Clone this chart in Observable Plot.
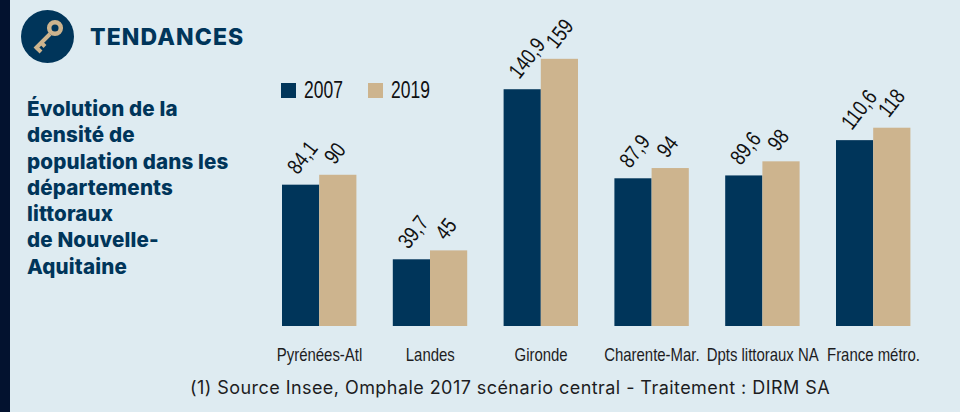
<!DOCTYPE html>
<html lang="fr"><head><meta charset="utf-8">
<script src="https://cdn.jsdelivr.net/npm/d3@7"></script>
<script src="https://cdn.jsdelivr.net/npm/@observablehq/plot@0.6"></script>
<style>
html,body{margin:0;padding:0;background:#deebf1;width:960px;height:412px;overflow:hidden}
#root{position:relative;width:960px;height:412px;overflow:hidden}
#strip{position:absolute;left:0;top:0;width:10px;height:412px;background:#03122f}
#chart{position:absolute;left:0;top:0}
.h{position:absolute;white-space:nowrap}
#title{left:90px;top:22px;font:800 23px/30px Inter,sans-serif;letter-spacing:1.1px;color:#00355a}
#desc{left:27px;top:96px;font:800 20.6px/26.3px Inter,sans-serif;letter-spacing:.15px;color:#00355a}
#caption{left:0;width:1020px;text-align:center;top:377px;font:400 18px/22px Inter,sans-serif;letter-spacing:.44px;color:#1d1d1f}
.lg{position:absolute;top:80px;font:23px/20px "Liberation Sans",sans-serif;color:#111;transform:scaleX(.76);transform-origin:left center}
.sw{position:absolute;top:83px;width:15px;height:15px}
#key{position:absolute;left:21px;top:10px}
</style></head><body>
<div id="root">
<div id="strip"></div>
<div id="chart"></div>
<svg id="key" width="53" height="53" viewBox="0 0 53 53">
  <circle cx="26.5" cy="26.5" r="26.5" fill="#00355a"/>
  <path d="M29 24 L14 39 M15.5 37.5 L20 42 M20 32.5 L24 36.5" stroke="#cdb48e" stroke-width="4" fill="none"/>
  <circle cx="34" cy="18" r="5.8" fill="none" stroke="#cdb48e" stroke-width="4.5"/>
</svg>
<div class="h" id="title">TENDANCES</div>
<div class="h" id="desc">Évolution de la<br>densité de<br>population dans les<br>départements<br>littoraux<br>de Nouvelle-<br>Aquitaine</div>
<div class="sw" style="left:281px;background:#00355a"></div>
<div class="lg" style="left:304px">2007</div>
<div class="sw" style="left:368px;background:#cdb48e"></div>
<div class="lg" style="left:391px">2019</div>
<div class="h" id="caption">(1) Source Insee, Omphale 2017 scénario central - Traitement : DIRM SA</div>
</div>
<script>
const categories = ["Pyrénées-Atl","Landes","Gironde","Charente-Mar.","Dpts littoraux NA","France métro."];
const years = ["2007","2019"];
const values2007 = [84.1,39.7,140.9,87.9,89.6,110.6];
const values2019 = [90,45,159,94,98,118];
const colors = ["#00355a","#cdb48e"];

const rows = categories.flatMap((c,i)=>[
  {cat:c,year:years[0],v:values2007[i]},
  {cat:c,year:years[1],v:values2019[i]}
]);
const fr = v => String(v).replace(".",",");
const font = '"Liberation Sans",sans-serif';

const chart = Plot.plot({
  width:960,height:412,
  marginTop:0,marginBottom:86,marginLeft:263.6,marginRight:31.6,
  style:{background:"transparent"},
  fx:{domain:categories,padding:0,round:false,label:null},
  x:{domain:years,range:[282,356.4],padding:0,round:false,axis:null},
  y:{domain:[0,194],range:[326,0],axis:null},
  color:{domain:years,range:colors},
  marks:[
    Plot.barY(rows,{fx:"cat",x:"year",y:"v",fill:"year"}),
    Plot.text(rows,{fx:"cat",x:"year",y:"v",text:d=>fr(d.v),rotate:-52,textAnchor:"start",
      dx:-9,dy:-14,fontSize:22,fontFamily:font,fill:"#111",className:"val"}),
    Plot.axisFx({anchor:"bottom",tickSize:0,tickPadding:22,label:null,fontSize:18,fontFamily:font,fill:"#1d1d1f",className:"cat"})
  ]
});
document.getElementById("chart").appendChild(chart);
// The installed fonts have no condensed cut: narrow the glyphs of the real text instead
function narrow(sel,k){
  chart.querySelectorAll(sel).forEach(t=>{
    t.setAttribute("transform",(t.getAttribute("transform")||"")+` scale(${k},1)`);
  });
}
narrow(".val text",.8);
narrow(".cat text",.83);
</script>
</body></html>
